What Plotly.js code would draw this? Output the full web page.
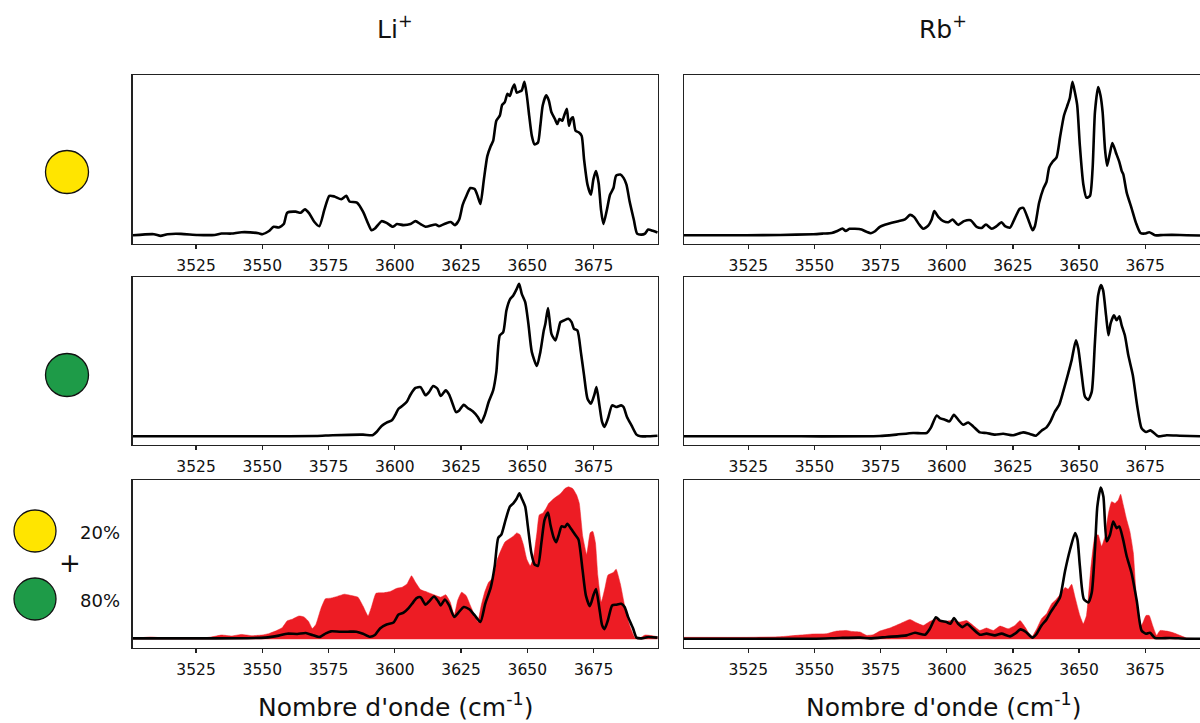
<!DOCTYPE html>
<html>
<head>
<meta charset="utf-8">
<script src="https://cdn.plot.ly/plotly-3.0.1.min.js"></script>
<style>html,body{margin:0;padding:0;background:#fff;}#chart{width:1200px;height:723px;}</style>
</head>
<body>
<div id="chart"></div>
<script>
// ---------- DATA ----------
const columnTitles = ["Li<sup>+</sup>", "Rb<sup>+</sup>"];
const xAxisLabel = "Nombre d'onde (cm<sup>-1</sup>)";
const tickValues = [3525, 3550, 3575, 3600, 3625, 3650, 3675];
const mixLabels = ["20%", "80%"];

// Li+ , yellow conformer (row 1)
const liYellowX = [3501.2,3509.1,3511.6,3514.2,3519.3,3525.6,3532.0,3534.6,3538.4,3542.2,3548.6,3550.0,3552.4,3554.3,3556.2,3558.1,3559.4,3562.6,3564.5,3566.1,3567.7,3569.6,3571.5,3573.4,3575.3,3577.2,3579.8,3581.7,3582.9,3585.7,3588.0,3589.9,3591.2,3592.5,3595.0,3596.9,3599.2,3600.8,3603.3,3605.9,3607.8,3609.7,3611.6,3615.4,3616.7,3619.2,3621.1,3622.7,3624.3,3625.6,3626.9,3628.5,3630.1,3631.3,3632.3,3633.6,3634.9,3636.2,3637.1,3638.3,3639.6,3640.5,3641.5,3642.5,3643.4,3644.3,3645.1,3646.0,3647.2,3647.9,3648.9,3649.8,3650.7,3651.7,3652.7,3654.0,3654.9,3655.8,3657.1,3658.1,3659.1,3660.4,3661.3,3662.1,3663.2,3663.9,3664.9,3665.7,3666.5,3667.2,3668.2,3669.5,3670.5,3671.4,3672.7,3674.0,3674.9,3675.9,3676.9,3677.8,3678.7,3680.0,3681.2,3682.5,3683.5,3685.1,3686.3,3687.4,3688.6,3690.2,3691.4,3693.1,3694.4,3695.6,3697.3,3699.1];
const liYellowY = [0,0.007,-0.004,0.007,0.009,0.002,0.002,0.011,0.011,0.020,0.013,0.007,0.026,0.055,0.051,0.073,0.147,0.154,0.147,0.169,0.143,0.088,0.059,0.165,0.257,0.253,0.235,0.257,0.220,0.213,0.154,0.077,0.033,0.044,0.092,0.081,0.055,0.073,0.066,0.073,0.092,0.073,0.055,0.070,0.059,0.077,0.086,0.066,0.103,0.198,0.253,0.308,0.301,0.253,0.204,0.363,0.516,0.582,0.615,0.747,0.780,0.850,0.868,0.923,0.908,0.956,0.982,0.930,0.938,0.945,1.000,0.912,0.780,0.648,0.593,0.604,0.714,0.846,0.912,0.879,0.802,0.758,0.725,0.758,0.747,0.780,0.824,0.714,0.758,0.769,0.681,0.670,0.648,0.495,0.330,0.264,0.363,0.418,0.341,0.165,0.073,0.165,0.264,0.308,0.389,0.396,0.374,0.330,0.220,0.099,0.011,0.004,0.011,0.037,0.029,0.018];

// Rb+ , yellow conformer (row 1)
const rbYellowX = [3500.7,3524.4,3537.0,3549.6,3553.3,3556.5,3558.4,3560.6,3561.8,3563.2,3565.3,3567.8,3569.7,3571.3,3572.9,3574.7,3576.6,3579.2,3581.7,3584.2,3586.1,3587.6,3589.6,3591.1,3593.0,3594.3,3595.3,3596.8,3598.7,3600.6,3602.2,3604.3,3606.5,3609.0,3611.3,3613.2,3614.8,3617.0,3618.8,3620.7,3622.0,3623.9,3625.8,3627.6,3628.9,3630.8,3632.4,3633.3,3634.9,3636.5,3637.7,3638.7,3640.0,3641.5,3642.8,3644.3,3645.5,3646.5,3647.5,3648.4,3649.3,3650.3,3651.6,3652.8,3654.1,3655.1,3656.0,3657.2,3658.1,3658.9,3659.8,3660.6,3661.6,3662.6,3663.9,3665.2,3666.1,3666.7,3668.0,3669.8,3671.5,3673.2,3674.9,3676.5,3678.7,3681.8,3688.1,3695.7];
const rbYellowY = [0,0,0.002,0.007,0.011,0.015,0.026,0.044,0.028,0.042,0.042,0.037,0.022,0.013,0.026,0.055,0.068,0.081,0.092,0.103,0.133,0.120,0.070,0.042,0.063,0.103,0.158,0.120,0.092,0.085,0.103,0.068,0.092,0.098,0.055,0.048,0.070,0.042,0.059,0.085,0.059,0.050,0.114,0.173,0.179,0.103,0.033,0.059,0.212,0.304,0.348,0.442,0.479,0.508,0.639,0.781,0.842,0.895,1.000,0.934,0.847,0.584,0.333,0.245,0.256,0.431,0.803,0.967,0.912,0.803,0.562,0.453,0.530,0.602,0.540,0.479,0.420,0.398,0.278,0.179,0.081,0.015,0.011,0.020,0,0.002,0.002,-0.002];

// Li+ , green conformer (row 2)
const liGreenX = [3501.2,3525.6,3551.1,3570.2,3576.6,3588.0,3591.6,3593.1,3595.0,3596.9,3598.9,3600.1,3601.4,3603.1,3604.6,3605.9,3607.8,3609.7,3611.6,3612.9,3614.5,3616.1,3617.3,3619.2,3620.5,3621.8,3623.1,3624.3,3626.0,3627.5,3629.4,3631.3,3632.6,3633.9,3635.4,3637.1,3638.3,3639.6,3640.9,3642.1,3643.4,3644.7,3646.0,3646.9,3647.9,3649.2,3650.4,3651.7,3653.6,3654.9,3656.2,3656.8,3657.8,3659.1,3660.6,3661.6,3662.5,3663.8,3665.5,3666.7,3667.6,3668.9,3670.2,3671.4,3672.7,3674.0,3675.3,3676.1,3677.2,3678.2,3679.1,3680.4,3682.0,3683.5,3685.4,3686.3,3687.6,3689.3,3691.2,3692.7,3695.0,3699.1];
const liGreenY = [0,0,0,0.002,0.007,0.011,0.007,0.028,0.068,0.090,0.105,0.138,0.181,0.203,0.229,0.273,0.317,0.323,0.269,0.290,0.330,0.312,0.264,0.301,0.273,0.214,0.159,0.170,0.207,0.186,0.164,0.127,0.090,0.138,0.225,0.301,0.421,0.662,0.683,0.825,0.897,0.924,0.967,1.000,0.934,0.880,0.738,0.552,0.461,0.552,0.694,0.738,0.841,0.672,0.629,0.688,0.749,0.760,0.771,0.749,0.705,0.694,0.552,0.400,0.247,0.214,0.273,0.323,0.203,0.094,0.061,0.116,0.203,0.192,0.203,0.192,0.127,0.072,0.011,0,0,0.004];

// Rb+ , green conformer (row 2)
const rbGreenX = [3500.7,3537.0,3574.7,3581.0,3587.3,3592.4,3593.9,3596.2,3597.4,3599.3,3601.0,3602.7,3604.3,3606.2,3608.1,3610.0,3612.5,3615.0,3618.2,3621.3,3625.1,3628.9,3631.4,3633.7,3635.8,3637.7,3639.2,3640.9,3642.5,3644.0,3645.9,3647.2,3648.8,3649.7,3651.0,3652.2,3653.5,3654.8,3656.0,3657.2,3658.3,3659.1,3660.2,3661.1,3661.9,3663.2,3664.2,3665.2,3666.1,3667.3,3668.6,3670.3,3672.0,3673.6,3675.3,3677.0,3678.3,3679.9,3683.1,3688.1,3695.7];
const rbGreenY = [0,0,0.002,0.011,0.022,0.022,0.054,0.137,0.120,0.109,0.098,0.141,0.109,0.076,0.091,0.065,0.026,0.022,0.011,0.017,0.007,0.026,0.015,0.004,0.037,0.059,0.098,0.163,0.207,0.293,0.413,0.500,0.630,0.576,0.402,0.261,0.239,0.293,0.620,0.924,0.993,0.957,0.793,0.663,0.739,0.793,0.761,0.787,0.728,0.663,0.533,0.402,0.196,0.054,0.028,0.039,0.022,0,0.007,0.004,0];

// Li+ , 20% yellow + 80% green mix (row 3, black line)
const liMixX = [3501.2,3525.6,3551.1,3556.2,3559.4,3563.2,3566.4,3568.9,3571.5,3574.0,3575.9,3579.1,3582.3,3585.5,3588.0,3590.6,3592.5,3594.4,3596.9,3599.5,3601.4,3603.3,3605.2,3606.5,3608.2,3609.7,3611.6,3612.9,3614.8,3616.4,3617.3,3618.9,3620.5,3622.4,3624.0,3626.0,3628.1,3630.1,3632.3,3634.1,3636.2,3637.7,3639.0,3640.2,3641.8,3643.4,3644.7,3646.0,3647.0,3647.9,3649.2,3650.2,3651.5,3652.7,3654.0,3655.3,3656.5,3657.8,3658.7,3660.0,3660.9,3661.9,3662.9,3664.2,3665.1,3666.3,3668.0,3669.3,3670.8,3672.1,3673.6,3674.9,3675.9,3677.2,3678.2,3679.1,3680.4,3682.0,3683.5,3685.4,3686.7,3688.0,3689.9,3691.2,3693.1,3695.6,3699.1];
const liMixY = [0.006,0.006,0.011,0.024,0.037,0.035,0.041,0.028,0.015,0.039,0.052,0.050,0.050,0.050,0.037,0.017,0.028,0.071,0.097,0.110,0.162,0.175,0.205,0.233,0.270,0.276,0.227,0.248,0.281,0.248,0.222,0.261,0.222,0.147,0.175,0.212,0.197,0.158,0.114,0.233,0.341,0.482,0.665,0.687,0.784,0.870,0.892,0.924,0.957,0.924,0.870,0.741,0.568,0.492,0.482,0.633,0.784,0.832,0.752,0.665,0.637,0.687,0.741,0.737,0.758,0.730,0.687,0.654,0.460,0.287,0.218,0.287,0.330,0.201,0.093,0.067,0.125,0.222,0.227,0.233,0.212,0.147,0.071,0.011,0.006,0.015,0.011];

// Li+ , experimental spectrum (row 3, red area)
const liExpX = [3501.2,3507.8,3512.9,3519.3,3525.6,3530.7,3534.6,3538.4,3542.2,3546.0,3549.8,3552.4,3554.9,3557.5,3559.4,3561.3,3563.8,3565.7,3567.4,3568.9,3570.2,3572.1,3573.8,3575.9,3578.5,3581.0,3583.6,3586.1,3588.0,3589.9,3591.2,3592.9,3595.7,3598.2,3600.8,3602.7,3604.6,3606.3,3607.8,3609.7,3612.3,3614.8,3617.3,3619.2,3620.9,3622.4,3623.7,3625.2,3626.9,3628.5,3630.1,3631.3,3632.6,3633.9,3635.4,3637.1,3638.7,3640.2,3641.5,3642.8,3644.7,3646.0,3647.2,3648.5,3649.8,3651.1,3652.3,3653.6,3654.5,3655.8,3657.1,3658.1,3659.4,3660.9,3662.6,3664.2,3665.5,3667.1,3668.6,3669.6,3670.9,3672.4,3673.7,3674.7,3675.7,3676.6,3677.9,3679.2,3680.4,3682.4,3683.5,3685.1,3686.7,3688.6,3690.6,3692.5,3694.4,3697.0,3699.1];
const liExpY = [0.006,0.015,0.009,0.011,0.006,0.015,0.028,0.022,0.032,0.024,0.028,0.037,0.054,0.076,0.121,0.132,0.153,0.147,0.119,0.071,0.097,0.201,0.266,0.270,0.283,0.296,0.287,0.276,0.218,0.153,0.212,0.302,0.305,0.313,0.335,0.341,0.363,0.417,0.374,0.326,0.309,0.292,0.276,0.292,0.244,0.158,0.255,0.309,0.287,0.222,0.158,0.114,0.222,0.309,0.374,0.406,0.525,0.590,0.637,0.654,0.676,0.698,0.687,0.622,0.525,0.482,0.536,0.698,0.816,0.827,0.860,0.892,0.914,0.935,0.957,0.989,1.000,0.989,0.946,0.892,0.676,0.557,0.698,0.708,0.633,0.417,0.244,0.330,0.421,0.438,0.460,0.363,0.222,0.093,0.011,0.009,0.028,0.024,0.017];

// Rb+ , 20% yellow + 80% green mix (row 3, black line)
const rbMixX = [3500.7,3549.6,3559.6,3567.2,3571.0,3577.3,3584.8,3588.0,3591.8,3593.6,3595.9,3597.4,3599.9,3601.4,3602.7,3604.3,3606.0,3607.7,3609.8,3612.5,3615.0,3618.2,3620.7,3623.9,3625.8,3627.9,3629.9,3632.4,3633.7,3635.8,3637.7,3639.2,3640.9,3642.8,3644.7,3646.6,3648.5,3649.4,3650.3,3651.8,3653.5,3654.8,3656.0,3656.9,3658.2,3659.2,3660.4,3661.7,3662.9,3664.2,3665.2,3666.5,3668.0,3669.8,3671.8,3673.6,3675.3,3676.8,3678.7,3684.3,3690.6,3695.7];
const rbMixY = [0.004,0.004,0.009,0.011,0.006,0.015,0.026,0.043,0.030,0.069,0.145,0.123,0.113,0.102,0.139,0.102,0.080,0.100,0.069,0.030,0.037,0.026,0.037,0.019,0.037,0.065,0.048,0.011,0.030,0.091,0.130,0.177,0.221,0.275,0.448,0.589,0.697,0.654,0.481,0.264,0.242,0.307,0.589,0.870,0.996,0.935,0.643,0.686,0.773,0.729,0.740,0.665,0.545,0.437,0.253,0.058,0.037,0.043,0.009,0.009,0.004,0.004];

// Rb+ , experimental spectrum (row 3, red area)
const rbExpX = [3500.7,3524.4,3537.0,3543.3,3549.6,3554.6,3558.4,3562.2,3564.0,3567.2,3569.7,3572.2,3574.7,3578.5,3582.3,3586.1,3588.6,3591.1,3593.6,3595.9,3598.7,3601.8,3605.0,3607.5,3610.0,3612.5,3615.0,3617.6,3620.1,3623.2,3625.8,3627.7,3629.6,3632.1,3634.0,3635.8,3637.7,3639.6,3641.5,3643.4,3644.7,3645.9,3647.2,3648.5,3650.3,3651.6,3652.8,3654.4,3656.0,3657.2,3658.5,3659.8,3661.1,3662.3,3663.6,3664.8,3665.7,3666.7,3668.0,3669.2,3670.5,3672.0,3673.6,3675.3,3676.5,3677.8,3679.3,3680.6,3683.1,3685.6,3688.1,3690.6,3695.7];
const rbExpY = [0.013,0.013,0.017,0.026,0.035,0.037,0.054,0.058,0.052,0.048,0.026,0.030,0.054,0.074,0.102,0.130,0.108,0.091,0.117,0.134,0.117,0.123,0.113,0.123,0.091,0.058,0.074,0.058,0.087,0.069,0.091,0.123,0.080,0.015,0.069,0.134,0.167,0.232,0.264,0.307,0.340,0.329,0.361,0.275,0.156,0.102,0.156,0.459,0.675,0.686,0.610,0.675,0.827,0.903,0.892,0.913,0.952,0.881,0.784,0.708,0.567,0.199,0.091,0.156,0.156,0.091,0.026,0.058,0.054,0.043,0.026,0.009,0.004];

// ---------- STYLE ----------
const W = 1200, H = 723;
const FONT = "DejaVu Sans, Verdana, sans-serif";
const RED = "#ED1C24";
const YELLOW = "#FFE500";
const GREEN = "#1E9B48";

const colX = [[132.7/W, 658/W], [684/W, 1.0]];
const rowsPx = [[75, 244], [277, 445], [480, 648]];
const rowY = rowsPx.map(r => [1 - r[1]/H, 1 - r[0]/H]);
const xRanges = [[3501.1, 3699.3], [3500.7, 3695.7]];
const yRange = [-0.057, 1.045];

function lineTrace(x, y, idx) {
  return {x, y, type: "scatter", mode: "lines", line: {color: "#000", width: 2.6, shape: "spline", smoothing: 0.6},
    xaxis: "x" + (idx === 1 ? "" : idx), yaxis: "y" + (idx === 1 ? "" : idx), hoverinfo: "skip", showlegend: false};
}
function areaTrace(x, y, idx) {
  return {x, y, type: "scatter", mode: "lines", fill: "tozeroy", fillcolor: RED, line: {color: RED, width: 0.5, shape: "spline", smoothing: 0.4},
    xaxis: "x" + idx, yaxis: "y" + idx, hoverinfo: "skip", showlegend: false};
}

const data = [
  lineTrace(liYellowX, liYellowY, 1),
  lineTrace(rbYellowX, rbYellowY, 2),
  lineTrace(liGreenX, liGreenY, 3),
  lineTrace(rbGreenX, rbGreenY, 4),
  areaTrace(liExpX, liExpY, 5),
  lineTrace(liMixX, liMixY, 5),
  areaTrace(rbExpX, rbExpY, 6),
  lineTrace(rbMixX, rbMixY, 6)
];

const layout = {
  width: W, height: H,
  margin: {l: 0, r: 0, t: 0, b: 0},
  paper_bgcolor: "#fff", plot_bgcolor: "#fff",
  font: {family: FONT, color: "#000"},
  showlegend: false,
  annotations: [], shapes: []
};

for (let r = 0; r < 3; r++) {
  for (let c = 0; c < 2; c++) {
    const idx = r * 2 + c + 1;
    const sx = idx === 1 ? "" : String(idx);
    layout["xaxis" + sx] = {
      domain: colX[c], range: xRanges[c], anchor: "y" + sx,
      tickvals: tickValues, ticktext: tickValues.map(String),
      ticks: "outside", ticklen: 4, tickwidth: 1.2, tickcolor: "#222",
      ticklabelstandoff: 3,
      tickfont: {family: FONT, size: 15.5, color: "#111"},
      showline: true, linecolor: "#222", linewidth: 1.3, mirror: true,
      showgrid: false, zeroline: false, fixedrange: true
    };
    layout["yaxis" + sx] = {
      domain: rowY[r], range: yRange, anchor: "x" + sx,
      showticklabels: false, ticks: "",
      showline: true, linecolor: "#222", linewidth: 1.3, mirror: c === 0,
      showgrid: false, zeroline: false, fixedrange: true
    };
  }
}

// column titles and axis labels
const colCenters = [(132.7 + 658) / 2 / W, (684 + 1202) / 2 / W];
for (let c = 0; c < 2; c++) {
  layout.annotations.push({text: columnTitles[c], xref: "paper", yref: "paper", x: colCenters[c], y: 1 - 28/H,
    xanchor: "center", yanchor: "middle", showarrow: false, font: {family: FONT, size: 25, color: "#111"}});
  layout.annotations.push({text: xAxisLabel, xref: "paper", yref: "paper", x: colCenters[c], y: 1 - 705/H,
    xanchor: "center", yanchor: "middle", showarrow: false, font: {family: FONT, size: 25, color: "#111"}});
}

// conformer markers
function circle(cx, cy, rad, color) {
  layout.shapes.push({type: "circle", xref: "paper", yref: "paper",
    x0: (cx - rad)/W, x1: (cx + rad)/W, y0: 1 - (cy + rad)/H, y1: 1 - (cy - rad)/H,
    fillcolor: color, line: {color: "#111", width: 1.3}});
}
circle(67, 172, 21.5, YELLOW);
circle(67, 375, 21.5, GREEN);
circle(35, 531, 21, YELLOW);
circle(35, 599, 21, GREEN);
layout.annotations.push({text: "+", xref: "paper", yref: "paper", x: 70/W, y: 1 - 563/H, xanchor: "center", yanchor: "middle",
  showarrow: false, font: {family: FONT, size: 26, color: "#111"}});
layout.annotations.push({text: mixLabels[0], xref: "paper", yref: "paper", x: 100/W, y: 1 - 532/H, xanchor: "center", yanchor: "middle",
  showarrow: false, font: {family: FONT, size: 18, color: "#111"}});
layout.annotations.push({text: mixLabels[1], xref: "paper", yref: "paper", x: 100/W, y: 1 - 600/H, xanchor: "center", yanchor: "middle",
  showarrow: false, font: {family: FONT, size: 18, color: "#111"}});

Plotly.newPlot("chart", data, layout, {staticPlot: true, displayModeBar: false});
</script>
</body>
</html>
